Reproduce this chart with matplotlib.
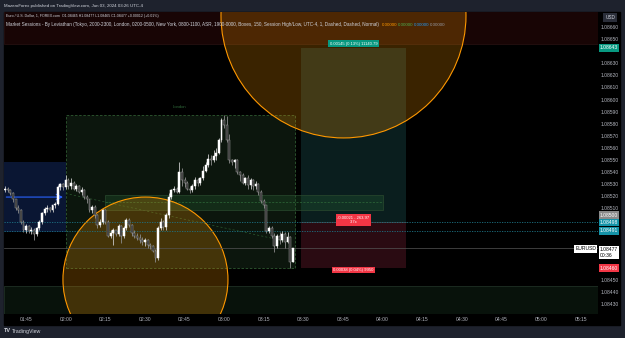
import matplotlib
matplotlib.use("Agg")
import matplotlib.pyplot as plt
import matplotlib.dates as mdates
import matplotlib.transforms as mtransforms
from matplotlib.patches import Rectangle, Ellipse
from matplotlib.ticker import FixedLocator, FormatStrFormatter
import pandas as pd

plt.rcParams['font.family'] = ['Liberation Sans', 'DejaVu Sans']

# EURUSD 1-minute candles, 01:37 -> 03:26 (UTC-4), Jun 03 2024
times = pd.date_range("2024-06-03 01:37", "2024-06-03 03:26", freq="1min")
opens = [1.08525, 1.08526, 1.08525, 1.08522, 1.08517, 1.08510, 1.08508, 1.08498, 1.08492, 1.08495,
         1.08491, 1.08492, 1.08488, 1.08493, 1.08498, 1.08506, 1.08509, 1.08510, 1.08508, 1.08512,
         1.08513, 1.08527, 1.08530, 1.08527, 1.08533, 1.08528, 1.08531, 1.08526, 1.08528, 1.08523,
         1.08525, 1.08519, 1.08517, 1.08508, 1.08511, 1.08504, 1.08496, 1.08498, 1.08508, 1.08498,
         1.08487, 1.08489, 1.08492, 1.08488, 1.08495, 1.08487, 1.08493, 1.08500, 1.08496, 1.08489,
         1.08487, 1.08485, 1.08483, 1.08482, 1.08483, 1.08479, 1.08478, 1.08474, 1.08468, 1.08493,
         1.08498, 1.08494, 1.08504, 1.08519, 1.08525, 1.08526, 1.08523, 1.08540, 1.08533, 1.08531,
         1.08526, 1.08525, 1.08528, 1.08533, 1.08531, 1.08535, 1.08541, 1.08546, 1.08551, 1.08550,
         1.08553, 1.08556, 1.08566, 1.08583, 1.08579, 1.08566, 1.08550, 1.08548, 1.08550, 1.08540,
         1.08537, 1.08531, 1.08535, 1.08529, 1.08533, 1.08528, 1.08530, 1.08523, 1.08516, 1.08512,
         1.08491, 1.08493, 1.08487, 1.08478, 1.08487, 1.08483, 1.08488, 1.08482, 1.08486, 1.08465]
highs = [1.08528, 1.08527, 1.08526, 1.08523, 1.08517, 1.08512, 1.08509, 1.08500, 1.08497, 1.08496,
         1.08494, 1.08493, 1.08494, 1.08500, 1.08507, 1.08511, 1.08512, 1.08511, 1.08512, 1.08515,
         1.08529, 1.08531, 1.08531, 1.08537, 1.08535, 1.08535, 1.08532, 1.08530, 1.08529, 1.08527,
         1.08526, 1.08521, 1.08517, 1.08512, 1.08512, 1.08505, 1.08501, 1.08509, 1.08509, 1.08500,
         1.08492, 1.08493, 1.08492, 1.08497, 1.08496, 1.08495, 1.08502, 1.08502, 1.08497, 1.08492,
         1.08489, 1.08488, 1.08486, 1.08485, 1.08484, 1.08481, 1.08479, 1.08476, 1.08495, 1.08502,
         1.08500, 1.08506, 1.08522, 1.08526, 1.08528, 1.08527, 1.08548, 1.08543, 1.08536, 1.08532,
         1.08528, 1.08530, 1.08536, 1.08535, 1.08536, 1.08545, 1.08548, 1.08555, 1.08554, 1.08558,
         1.08560, 1.08568, 1.08585, 1.08587, 1.08586, 1.08571, 1.08551, 1.08551, 1.08551, 1.08541,
         1.08539, 1.08536, 1.08537, 1.08535, 1.08534, 1.08532, 1.08531, 1.08525, 1.08517, 1.08512,
         1.08495, 1.08495, 1.08489, 1.08488, 1.08490, 1.08491, 1.08490, 1.08490, 1.08487, 1.08477]
lows = [1.08523, 1.08523, 1.08521, 1.08515, 1.08508, 1.08506, 1.08497, 1.08490, 1.08489, 1.08489,
        1.08488, 1.08483, 1.08487, 1.08492, 1.08497, 1.08504, 1.08507, 1.08507, 1.08507, 1.08510,
        1.08512, 1.08525, 1.08525, 1.08526, 1.08526, 1.08526, 1.08525, 1.08524, 1.08522, 1.08521,
        1.08517, 1.08514, 1.08507, 1.08506, 1.08502, 1.08493, 1.08494, 1.08497, 1.08497, 1.08486,
        1.08485, 1.08479, 1.08487, 1.08487, 1.08481, 1.08485, 1.08492, 1.08494, 1.08487, 1.08485,
        1.08483, 1.08481, 1.08479, 1.08478, 1.08477, 1.08476, 1.08473, 1.08465, 1.08467, 1.08492,
        1.08492, 1.08492, 1.08502, 1.08517, 1.08523, 1.08522, 1.08522, 1.08528, 1.08527, 1.08525,
        1.08522, 1.08523, 1.08526, 1.08528, 1.08529, 1.08533, 1.08540, 1.08544, 1.08546, 1.08548,
        1.08550, 1.08555, 1.08565, 1.08576, 1.08565, 1.08547, 1.08546, 1.08543, 1.08538, 1.08532,
        1.08530, 1.08529, 1.08526, 1.08526, 1.08525, 1.08526, 1.08521, 1.08514, 1.08510, 1.08489,
        1.08489, 1.08485, 1.08473, 1.08477, 1.08480, 1.08482, 1.08477, 1.08481, 1.08460, 1.08465]
closes = [1.08526, 1.08525, 1.08522, 1.08517, 1.08510, 1.08508, 1.08498, 1.08492, 1.08495, 1.08491,
          1.08492, 1.08488, 1.08493, 1.08498, 1.08506, 1.08509, 1.08510, 1.08508, 1.08512, 1.08513,
          1.08527, 1.08530, 1.08527, 1.08533, 1.08528, 1.08531, 1.08526, 1.08528, 1.08523, 1.08525,
          1.08519, 1.08517, 1.08508, 1.08511, 1.08504, 1.08496, 1.08498, 1.08508, 1.08498, 1.08487,
          1.08489, 1.08492, 1.08488, 1.08495, 1.08487, 1.08493, 1.08500, 1.08496, 1.08489, 1.08487,
          1.08485, 1.08483, 1.08482, 1.08483, 1.08479, 1.08478, 1.08474, 1.08468, 1.08493, 1.08498,
          1.08494, 1.08504, 1.08519, 1.08525, 1.08526, 1.08523, 1.08540, 1.08533, 1.08531, 1.08526,
          1.08525, 1.08528, 1.08533, 1.08531, 1.08535, 1.08541, 1.08546, 1.08551, 1.08550, 1.08553,
          1.08556, 1.08566, 1.08583, 1.08579, 1.08566, 1.08550, 1.08548, 1.08550, 1.08540, 1.08537,
          1.08531, 1.08535, 1.08529, 1.08533, 1.08528, 1.08530, 1.08523, 1.08516, 1.08512, 1.08491,
          1.08493, 1.08487, 1.08478, 1.08487, 1.08483, 1.08488, 1.08482, 1.08486, 1.08465, 1.08477]

# levels drawn on the chart
asia_box = (1.08490, 1.08548)
asia_mid = 1.08519
london_box = (1.08460, 1.08587)
zone_band = (1.08508, 1.08521)
zone_mid = 1.08515
entry, target, stop = 1.08498, 1.08643, 1.08460
cyan_levels = [1.08498, 1.08491]
last_price = 1.08477
top_band = 1.08646
bottom_band = 1.08445
# price scale ticks that are not hidden behind a label box
price_ticks = [1.08660, 1.08650, 1.08630, 1.08620, 1.08610, 1.08600, 1.08590, 1.08580, 1.08570,
               1.08560, 1.08550, 1.08540, 1.08530, 1.08520, 1.08510, 1.08450, 1.08440, 1.08430]


def at(hms):
    return mdates.date2num(pd.Timestamp("2024-06-03 " + hms))


MIN = 1 / 1440.0
W, H = 625, 338
BG = "#1e222d"

fig = plt.figure(figsize=(W / 100, H / 100), dpi=100, facecolor=BG)
# black chart panel (pane + price/time scales)
fig.patches.append(Rectangle((3.5 / W, 1 - 324.5 / H), (620 - 3.5) / W, (324.5 - 12) / H,
                             transform=fig.transFigure, color="black", zorder=-5))
ax = fig.add_axes([3.5 / W, 1 - 313.5 / H, (598 - 3.5) / W, (313.5 - 12) / H])
ax.set_zorder(1)
ax.set_facecolor("black")
for s in ax.spines.values():
    s.set_visible(False)

x0, x1 = at("01:36:26"), at("05:21:36")
ax.set_xlim(x0, x1)
ax.set_ylim(1.084223, 1.086727)

# background bands
ax.add_patch(Rectangle((x0, top_band), x1 - x0, 0.001, fc="#180505", ec="#2a1212", lw=0.5, zorder=0.5))
ax.add_patch(Rectangle((x0, 1.0840), x1 - x0, bottom_band - 1.0840, fc="#08120b", ec="#1f3025",
                       lw=0.6, zorder=0.5))

# Asia box + arrow
ax.add_patch(Rectangle((x0, asia_box[0]), at("02:00") - x0, asia_box[1] - asia_box[0],
                       fc="#0a1633", ec="none", zorder=1))
ax.annotate("", xy=(at("02:00"), asia_mid), xytext=(x0, asia_mid),
            arrowprops=dict(arrowstyle="->", color="#2962ff", lw=0.8), zorder=2.6)

# London session box
ax.add_patch(Rectangle((at("02:00"), london_box[0]), at("03:27") - at("02:00"),
                       london_box[1] - london_box[0], fc="#0c160d", ec="#2f5a32",
                       lw=0.6, ls=(0, (3, 2)), zorder=1))
ax.text(at("02:43"), 1.08594, "London", color="#2f6a3a", fontsize=3, ha="center", va="center")
ax.plot([at("02:00"), at("03:24")], [1.08522, 1.08482], color="#2b5a30", lw=0.5,
        ls=(0, (3, 3)), zorder=1.2)

# long position tool
p0, p1 = at("03:29"), at("04:09")
ax.add_patch(Rectangle((p0, entry), p1 - p0, target - entry, fc="#0a1e1e", ec="none", zorder=1))
ax.add_patch(Rectangle((p0, stop), p1 - p0, entry - stop, fc="#2a0b12", ec="none", zorder=1))
ax.plot([p0, p1], [entry, entry], color="#4a4a4a", lw=0.5, zorder=1.1)

# demand band
ax.add_patch(Rectangle((at("02:15"), zone_band[0]), at("04:00") - at("02:15"),
                       zone_band[1] - zone_band[0], fc=(0.15, 0.38, 0.2, 0.3), ec="#2a4a2e",
                       lw=0.5, zorder=1.5))
ax.plot([at("02:15"), at("04:00")], [zone_mid, zone_mid], color="#2f6a3a", lw=0.5,
        ls=(0, (3, 2)), zorder=1.6)

# circles
ax.add_patch(Ellipse((at("02:30:12"), 1.084505), 2 * 31.25 * MIN, 2 * 0.000685,
                     fc=(1, 0.6, 0, 0.23), ec="#ff9800", lw=0.8, zorder=2))
ax.add_patch(Ellipse((at("03:45:12"), 1.086698), 2 * 46.4 * MIN, 2 * 0.001017,
                     fc=(1, 0.6, 0, 0.23), ec="#ff9800", lw=0.8, zorder=2))

# horizontal lines
for lv in cyan_levels:
    ax.axhline(lv, color="#1d7385", lw=0.6, ls=(0, (1.5, 1.5)), zorder=2.5)
ax.axhline(last_price, color="#555555", lw=0.5, zorder=2.5)

# candles
tn = mdates.date2num(times)
for t, o, h, l, c in zip(tn, opens, highs, lows, closes):
    up = c >= o
    ax.vlines(t, l, h, color="#c8c8c8" if up else "#8c8c8c", lw=0.6, zorder=3)
    body = max(abs(c - o), 0.000008)
    ax.bar(t, body, bottom=min(o, c), width=0.74 * MIN,
           color="white" if up else "#2e2e2e", edgecolor="white" if up else "#9a9a9a",
           linewidth=0.35, zorder=3.2)

# axes ticks
ax.xaxis.set_major_locator(mdates.MinuteLocator(byminute=[0, 15, 30, 45]))
ax.xaxis.set_major_formatter(mdates.DateFormatter("%H:%M"))
ax.tick_params(axis="x", colors="#b2b5be", labelsize=3.6, length=0, pad=2.2)
ax.yaxis.tick_right()
ax.yaxis.set_major_locator(FixedLocator(price_ticks))
ax.yaxis.set_major_formatter(FormatStrFormatter("%.5f"))
ax.tick_params(axis="y", colors="#b2b5be", labelsize=3.6, length=0, pad=2.2)

# price scale labels
yt = mtransforms.blended_transform_factory(ax.transAxes, ax.transData)


def plabel(y, txt, fc, tc="white", x=1.003, ha="left"):
    ax.text(x, y, txt, transform=yt, ha=ha, va="center", fontsize=3.6, color=tc, clip_on=False,
            zorder=10, linespacing=1.1,
            bbox=dict(boxstyle="square,pad=0.25", fc=fc, ec="none"))


plabel(target, "1.08643", "#089981")
plabel(1.08504, "1.08500", "#8a8a8a")
plabel(cyan_levels[0], "1.08498", "#1593a8")
plabel(cyan_levels[1], "1.08491", "#1593a8")
plabel(1.08473, "1.08477\n00:36", "white", tc="black")
plabel(1.08476, "EURUSD", "white", tc="black", x=0.997, ha="right")
plabel(stop, "1.08460", "#f23645")
ax.text(1.012, 0.982, "USD", transform=ax.transAxes, ha="left", va="center", fontsize=3.4,
        color="#d1d4dc", clip_on=False, zorder=10,
        bbox=dict(boxstyle="square,pad=0.4", fc="#2a2e39", ec="none"))

# position tool labels
pm = at("03:49")
ax.text(pm, 1.086465, "0.00145 (0.13%) 11140.79", ha="center", va="center", fontsize=3,
        color="white", zorder=10, bbox=dict(boxstyle="square,pad=0.3", fc="#089981", ec="none"))
ax.text(pm, 1.08500, "-0.00021 - 263.97\n3.7x", ha="center", va="center", fontsize=3,
        color="white", zorder=10, linespacing=1.1,
        bbox=dict(boxstyle="square,pad=0.35", fc="#f23645", ec="none"))
ax.text(pm, 1.084585, "0.00038 (0.04%) 9950", ha="center", va="center", fontsize=3,
        color="white", zorder=10, bbox=dict(boxstyle="square,pad=0.3", fc="#f23645", ec="none"))

# header texts
fig.text(4 / W, 1 - 5.5 / H, "MazeroForex published on TradingView.com, Jun 03, 2024 03:26 UTC-4",
         color="#d1d4dc", fontsize=3.2, va="center")
fig.text(6 / W, 1 - 16.5 / H,
         "Euro / U.S. Dollar, 1, FOREX.com  O1.08465 H1.08477 L1.08465 C1.08477 +0.00012 (+0.01%)",
         color="#d1d4dc", fontsize=2.6, va="center", zorder=5)
fig.text(6 / W, 1 - 24.5 / H,
         "Market Sessions - By Leviathan (Tokyo, 2000-2300, London, 0200-0500, New York, 0800-1100, "
         "ASR, 1900-0000, Boxes, 150, Session High/Low, UTC-4, 1, Dashed, Dashed, Normal)",
         color="#d1d4dc", fontsize=3.35, va="center", zorder=5)
for xp, col in zip([382, 398, 414, 430], ["#ff9800", "#4caf50", "#2196f3", "#9598a1"]):
    fig.text(xp / W, 1 - 24.5 / H, "0.00000", color=col, fontsize=3.2, va="center", zorder=5)

fig.text(4 / W, 1 - 331 / H, "TV", color="#d1d4dc", fontsize=4, weight="bold", va="center")
fig.text(12 / W, 1 - 331 / H, "TradingView", color="#d1d4dc", fontsize=3.8, va="center")

fig.savefig("out.png", dpi=100, facecolor=BG)
